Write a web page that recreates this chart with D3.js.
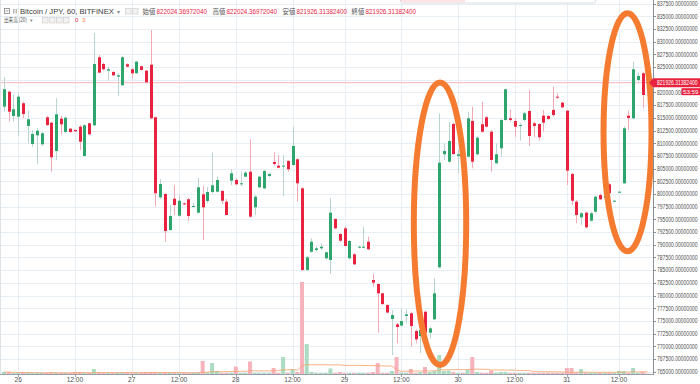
<!DOCTYPE html>
<html><head><meta charset="utf-8">
<script src="https://cdn.jsdelivr.net/npm/d3@7"></script>
<style>html,body{margin:0;padding:0;background:#fff;overflow:hidden}svg{display:block}</style>
</head><body>
<svg id="c" width="700" height="384"></svg>
<script>
// ---------- DATA (Bitcoin / JPY, 60 min, BITFINEX) ----------
const opens=[817200,820150,815370,815230,817870,813400,809850,811560,809790,815110,814050,808470,814830,812210,812860,812610,813260,807490,813930,813530,
826930,825610,824290,824030,823110,821410,825550,824570,823780,825160,824290,825470,815110,799350,800000,792910,799070,795730,798170,798960,
797500,796320,799940,798620,800390,800450,800590,798480,802620,802760,801910,803410,804390,797380,801320,801120,803550,806300,805580,805380,
806500,805710,806840,801120,785030,788630,788970,789300,787330,787000,795080,792120,793240,787330,788120,789420,789420,790600,783060,782270,
780440,778130,775380,774330,774090,775970,776500,773010,772030,776810,772680,775320,785560,807820,806360,813790,807490,808670,807350,814380,
807820,813730,815110,812270,806050,809000,814580,814910,814380,813400,814580,816350,813930,813790,815430,815370,816550,819170,817990,816410,
803940,798480,795410,796320,794740,796510,799800,799210,801910,798480,800260,802110,815430,814910,822460,823780,822024.36972040];
const highs=[822990,820390,819500,819840,818180,816410,812610,812940,812270,815370,814240,818850,815370,815230,813000,812710,813590,813790,814050,831720,
827380,825870,825080,824230,823780,827190,825750,824760,826260,825350,824430,832310,815230,802960,800140,797830,801770,799800,798290,799210,
798170,803150,801580,801320,808140,803410,800790,799020,804870,803090,804390,804530,810780,799800,803550,804730,804200,808220,807680,807680,
806700,813260,807030,801320,787790,791270,789620,790290,788630,799150,795210,792260,793560,790940,788320,789760,793560,791590,784240,782410,
780560,778330,777150,774590,777480,777290,776810,773350,774590,777010,773860,783390,815900,809990,814240,814050,808670,809260,816210,817200,
811370,818180,815370,812610,809990,814720,820740,816690,814910,813930,816210,820490,814240,813930,816550,815560,821140,819840,818180,816550,
804200,798820,796400,796510,796510,799610,800140,799800,802110,798820,800590,813340,816410,826060,823900,824090,822024.36972040];
const lows=[816210,814240,814240,811430,814910,809990,809320,805910,809460,813400,804390,806700,811760,811960,812020,812210,808670,807290,811620,813400,
823780,824290,822320,823250,819310,821340,824960,822790,823640,824290,821810,814720,797500,799020,790600,792770,795860,795530,797830,794680,
797380,796200,790940,798170,800140,800260,798030,795800,801770,801770,801580,803290,795410,795860,801120,800930,803290,805580,805060,799610,
804390,805580,798480,784890,784890,788440,788630,788970,787140,784240,793050,790600,789620,787140,786010,789300,789300,788970,781740,772680,
778130,776500,768280,770590,773860,774530,769920,770590,768680,771890,771570,775180,785360,806700,806170,807680,804080,806700,807230,805060,
807620,812080,813060,804390,805910,807350,814440,814240,811290,810500,814240,809460,811170,810500,812270,814580,815230,818660,816880,801770,
797830,794230,793890,793240,794540,796320,798820,799020,798820,798420,800140,801970,812610,814720,822120,816880,821926.31382400];
const closes=[820630,816210,816690,819170,815760,814720,811820,812470,811960,813590,807230,815700,813730,815030,812210,812350,810300,813530,811760,825610,
823900,824570,824570,823380,823380,826930,825080,823780,826060,824430,822010,814910,800140,801970,792710,795670,797830,798680,797970,795670,
797640,801320,797380,800390,801710,802760,798680,795860,804080,801910,802110,804200,795530,799470,803410,804530,803940,805910,805180,805580,
804870,809460,802110,785030,787530,790600,789300,789620,788520,796320,793240,790800,789760,790740,786150,789620,789620,789110,782530,780440,
778330,776660,776160,773800,774980,776300,774000,771380,773210,772680,773540,780440,806170,808470,810440,807880,807820,807490,814910,806360,
811090,812270,813260,806700,807820,814580,820630,814580,813260,813590,815900,811430,813400,811170,814050,814780,815560,819050,817080,804590,
798680,795860,796200,793440,796200,799470,798960,799610,800140,798680,800450,812940,814970,824570,823250,819500,821926.31382400];
const volumes=[2,2,1,1,1,1.5,1,1,1,1,1.5,1,1,1,1,2,2,1,1,5,
1.5,1,1,1,1,1.5,1,1,1,1,1.5,2,2,1,1.5,1,1,1,1,1,
1,1.5,13,1,11,3,1,1,1,7.5,1,1,12.5,1,1,1,1,6,1,17,
1,5,2,92,30,2,1,1,1,5.5,1,2,1,1,1,1,1,1,2,11,
1,1,3,17,1.5,1,5,1,2,7,2,3,19,3,3.5,2,1,1,4,17,
2,1,1,3.5,1,2,2,1,1,1,1,1,1,1,1,1,1,1,1,6,
6,1,5,1,1,1,1,1,1,1,3,3,1,6,1,2,0.5];
const priceTicks=d3.range(765000,837500+1,2500);
const xTickCandles=[4,16,28,38,50,62,73,85,97,109,120,131];
const xTickLabels=["26","12:00","27","12:00","28","12:00","29","12:00","30","12:00","31","12:00"];
const maPeriod=20;
// annotations: centre candle, centre price, half-width in candles, half-height in price
const marks=[{c:93.18,p:794130,rc:5.54,rp:27820},{c:132.82,p:812170,rc:5.07,rp:23440}];
const hdr={symbol:"Bitcoin / JPY, 60, BITFINEX",o:"822024.36972040",h:"822024.36972040",l:"821926.31382400",c:"821926.31382400",countdown:"53:59"};

// ---------- CHART ----------
const svg=d3.select("#c");
const W=700,H=384,plotR=653,plotB=374;
const n=opens.length;
const UP="#2ea56d",DN="#e8233f",UPW="#b9d3cf",DNW="#f3a9b3",UPV="#abdcc2",DNV="#f6b3bb";
const x=d3.scaleLinear().domain([1,n]).range([4,647.3]);
const y=d3.scaleLinear().domain([765000,837500]).range([371.7,3.6]);
const vy=d3.scaleLinear().domain([0,d3.max(volumes)]).range([plotB,282]);
const FONT="'Liberation Sans',Arial,sans-serif";
const JFONT="'Noto Sans CJK JP','Liberation Sans',sans-serif";

// text squeezed horizontally to a target width (measured, then scaled)
function fitText(parent,str,tx,ty,size,fill,target,family){
  const t=parent.append("text").attr("x",0).attr("y",0).attr("font-family",family||FONT).attr("font-size",size).attr("fill",fill).text(str);
  const len=t.node().getComputedTextLength();
  const s=len>0?target/len:1;
  t.attr("transform",`translate(${tx},${ty}) scale(${s},1)`);
  return t;
}

svg.append("rect").attr("width",W).attr("height",H).attr("fill","#fff");
svg.append("defs").append("clipPath").attr("id","pc").append("rect").attr("x",0).attr("y",0).attr("width",plotR).attr("height",plotB);

// grid
const g=svg.append("g").attr("clip-path","url(#pc)");
g.selectAll("line.h").data(priceTicks).join("line").attr("class","h")
 .attr("x1",0).attr("x2",plotR).attr("y1",d=>Math.round(y(d))+0.5).attr("y2",d=>Math.round(y(d))+0.5)
 .attr("stroke","#e7eef4").attr("stroke-width",1);
g.selectAll("line.v").data(xTickCandles).join("line").attr("class","v")
 .attr("x1",d=>Math.round(x(d))+0.5).attr("x2",d=>Math.round(x(d))+0.5).attr("y1",0).attr("y2",plotB)
 .attr("stroke","#e7eef4").attr("stroke-width",1);

const idx=d3.range(n);
const up=i=>closes[i]>=opens[i];
// volume
g.selectAll("rect.vol").data(idx).join("rect").attr("class","vol")
 .attr("x",i=>x(i+1)-2).attr("width",4)
 .attr("y",i=>vy(volumes[i])).attr("height",i=>plotB-vy(volumes[i]))
 .attr("fill",i=>up(i)?UPV:DNV);
// volume MA
const ma=idx.map(i=>{const s=volumes.slice(Math.max(0,i-maPeriod+1),i+1);return d3.mean(s);});
g.append("path").datum(idx).attr("fill","none").attr("stroke","#f6a36e").attr("stroke-opacity",0.85).attr("stroke-width",1)
 .attr("d",d3.line().x(i=>x(i+1)).y(i=>vy(ma[i])));

// price line
g.append("line").attr("x1",0).attr("x2",plotR)
 .attr("y1",y(closes[n-1])).attr("y2",y(closes[n-1])).attr("stroke","#f4b5bc").attr("stroke-width",1);

// candles
g.selectAll("line.wick").data(idx).join("line").attr("class","wick")
 .attr("x1",i=>Math.round(x(i+1))+0.5).attr("x2",i=>Math.round(x(i+1))+0.5)
 .attr("y1",i=>y(highs[i])).attr("y2",i=>y(lows[i]))
 .attr("stroke",i=>up(i)?UPW:DNW).attr("stroke-width",1);
g.selectAll("rect.body").data(idx).join("rect").attr("class","body")
 .attr("x",i=>Math.round(x(i+1))-1).attr("width",3)
 .attr("y",i=>y(Math.max(opens[i],closes[i])))
 .attr("height",i=>Math.max(1,Math.abs(y(opens[i])-y(closes[i]))))
 .attr("fill",i=>up(i)?UP:DN);

// annotations
g.selectAll("ellipse").data(marks).join("ellipse")
 .attr("cx",d=>x(d.c)).attr("cy",d=>y(d.p))
 .attr("rx",d=>x(d.c+d.rc)-x(d.c)).attr("ry",d=>y(d.p-d.rp)-y(d.p))
 .attr("fill","none").attr("stroke","#f57b30").attr("stroke-width",6);

// faint box cut at the top edge
svg.append("rect").attr("x",400.5).attr("y",-6).attr("width",195).attr("height",9).attr("rx",2).attr("fill","#fff").attr("stroke","#cfd3d8").attr("stroke-width",0.8);
svg.append("rect").attr("x",401).attr("y",-5).attr("width",64).attr("height",7.5).attr("fill","#fbe3e6");

// left edge
svg.append("line").attr("x1",0.5).attr("x2",0.5).attr("y1",0).attr("y2",plotB).attr("stroke","#dfe3e8");
// axes lines
svg.append("line").attr("x1",0).attr("x2",plotR).attr("y1",plotB+0.5).attr("y2",plotB+0.5).attr("stroke","#9a9ea6");
svg.append("line").attr("x1",plotR+0.5).attr("x2",plotR+0.5).attr("y1",0).attr("y2",plotB+1).attr("stroke","#8a8e96");

// right axis ticks & labels
const fmt=d3.format(".8f");
const ly=y(closes[n-1]);
const ax=svg.append("g");
ax.selectAll("line").data(priceTicks).join("line")
 .attr("x1",plotR).attr("x2",plotR+3).attr("y1",d=>Math.round(y(d))+0.5).attr("y2",d=>Math.round(y(d))+0.5).attr("stroke","#8a8e96");
priceTicks.filter(d=>Math.abs(y(d)-ly)>5).forEach(d=>fitText(ax,fmt(d),657,y(d)+2.3,6.4,"#4f4f4f",40.5));

// bottom labels
svg.append("g").selectAll("line").data(xTickCandles).join("line")
 .attr("x1",d=>Math.round(x(d))+0.5).attr("x2",d=>Math.round(x(d))+0.5).attr("y1",plotB).attr("y2",plotB+3).attr("stroke","#9a9ea6");
svg.append("g").selectAll("text").data(xTickCandles).join("text")
 .attr("x",d=>x(d)).attr("y",381.5).attr("text-anchor","middle").attr("font-family",FONT).attr("font-size",6.6).attr("fill","#4f4f4f")
 .text((d,i)=>xTickLabels[i]);

// last price label
svg.append("path").attr("d",`M${plotR-4},${ly} L${plotR},${ly-4.5} L700,${ly-4.5} L700,${ly+4.5} L${plotR},${ly+4.5} Z`).attr("fill",DN);
fitText(svg,fmt(closes[n-1]),657,ly+2.3,6.4,"#fff",40.5);
svg.append("rect").attr("x",681.5).attr("y",ly+5.5).attr("width",18.5).attr("height",7).attr("fill",DN);
svg.append("text").attr("x",690.7).attr("y",ly+11.3).attr("text-anchor","middle").attr("font-family",FONT).attr("font-size",6.2).attr("fill","#fff").text(hdr.countdown);

// header
const hd=svg.append("g");
hd.append("rect").attr("x",4.5).attr("y",8.5).attr("width",5).attr("height",5).attr("fill","#fff").attr("stroke","#888").attr("stroke-width",0.8);
hd.append("line").attr("x1",5.5).attr("x2",8.5).attr("y1",11).attr("y2",11).attr("stroke","#888").attr("stroke-width",0.8);
[13.5,15,16.5].forEach(v=>hd.append("line").attr("x1",v).attr("x2",v).attr("y1",9).attr("y2",13.5).attr("stroke","#999").attr("stroke-width",0.7));
fitText(hd,hdr.symbol,20,14.2,7.8,"#3d3d3d",94);
hd.append("text").attr("x",117).attr("y",13.6).attr("font-family",FONT).attr("font-size",6).attr("fill","#888").text("▾");
[125,132].forEach(v=>{hd.append("rect").attr("x",v+0.5).attr("y",8.5).attr("width",5.5).attr("height",5.5).attr("fill","#f2f2f2").attr("stroke","#c8c8c8").attr("stroke-width",0.6);});
const pairs=[["始値",hdr.o,142.5,156.5],["高値",hdr.h,212.5,226.5],["安値",hdr.l,282.5,296.5],["終値",hdr.c,351.5,365.5]];
pairs.forEach(p=>{
 hd.append("text").attr("x",p[2]).attr("y",14.2).attr("font-family",JFONT).attr("font-size",6.4).attr("fill","#555").text(p[0]);
 fitText(hd,p[1],p[3],14.2,7,DN,50.5);
});
fitText(hd,"出来高 (20)",4,22.3,5.6,"#555",23,JFONT);
hd.append("text").attr("x",29.5).attr("y",22).attr("font-family",FONT).attr("font-size",5).attr("fill","#888").text("▾");
[42,49,56,63].forEach(v=>{hd.append("rect").attr("x",v+0.5).attr("y",17.5).attr("width",5.5).attr("height",5.5).attr("fill","#f2f2f2").attr("stroke","#c8c8c8").attr("stroke-width",0.6);});
hd.append("text").attr("x",75).attr("y",22.3).attr("font-family",FONT).attr("font-size",6).attr("fill",DN).text("0");
hd.append("text").attr("x",82).attr("y",22.3).attr("font-family",FONT).attr("font-size",6).attr("fill","#f57b30").text("3");
</script>
</body></html>
